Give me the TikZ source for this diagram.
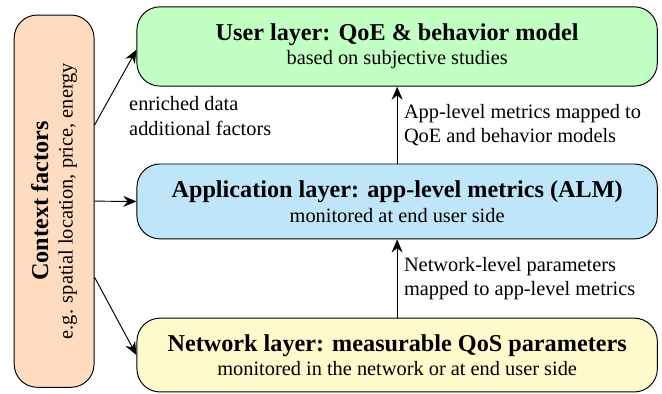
\documentclass[tikz,border=0pt]{standalone}
\usepackage{fontspec}
\setmainfont{Liberation Serif}
\usetikzlibrary{arrows.meta}
\definecolor{userfill}{HTML}{C2FFC2}
\definecolor{appfill}{HTML}{BEE5F8}
\definecolor{netfill}{HTML}{FFFACC}
\definecolor{ctxfill}{HTML}{FFDCC0}
\newcommand{\layertitle}[1]{{\fontsize{12.6}{15}\selectfont\bfseries #1}}

\begin{document}
\begin{tikzpicture}[font=\fontsize{10.6}{12.8}\selectfont,
  layer/.style={draw,rounded corners=12pt,minimum width=9.52cm,align=center,line width=0.5pt},
  flow/.style={-{Stealth[length=2.4mm,width=2mm]},line width=0.5pt}]
  \useasboundingbox (0,0) rectangle (12.11,7.19);
  % the three layers, top to bottom
  \node[layer,fill=userfill,minimum height=1.45cm] (user) at (7.265,6.34)
    {\layertitle{User layer: QoE \& behavior model}\\based on subjective studies};
  \node[layer,fill=appfill,minimum height=1.37cm] (app) at (7.265,3.505)
    {\layertitle{Application layer: app-level metrics (ALM)}\\monitored at end user side};
  \node[layer,fill=netfill,minimum height=1.35cm] (net) at (7.265,0.695)
    {\layertitle{Network layer: measurable QoS parameters}\\monitored in the network or at end user side};
  % context box on the left, text turned upright
  \node[draw,fill=ctxfill,rounded corners=12pt,minimum width=6.81cm,minimum height=1.46cm,
    rotate=90,align=center,line width=0.5pt] (ctx) at (0.99,3.51)
    {\layertitle{Context factors}\\e.g. spatial location, price, energy};
  % context feeds every layer
  \draw[flow] ([yshift=1.39cm]ctx.south) -- ([yshift=-0.06cm]user.west);
  \draw[flow] (ctx.south) -- (app.west);
  \draw[flow] ([yshift=-1.39cm]ctx.south) -- (net.west);
  \node[align=left,anchor=west] (enrich) at (2.24,5.07) {enriched data\\additional factors};
  % mappings between layers
  \draw[flow] (app.north) -- node[midway,right,align=left] (almmap) {App-level metrics mapped to\\QoE and behavior models} (user.south);
  \draw[flow] (net.north) -- node[midway,right,align=left] (qosmap) {Network-level parameters\\mapped to app-level metrics} (app.south);
\end{tikzpicture}
\end{document}
